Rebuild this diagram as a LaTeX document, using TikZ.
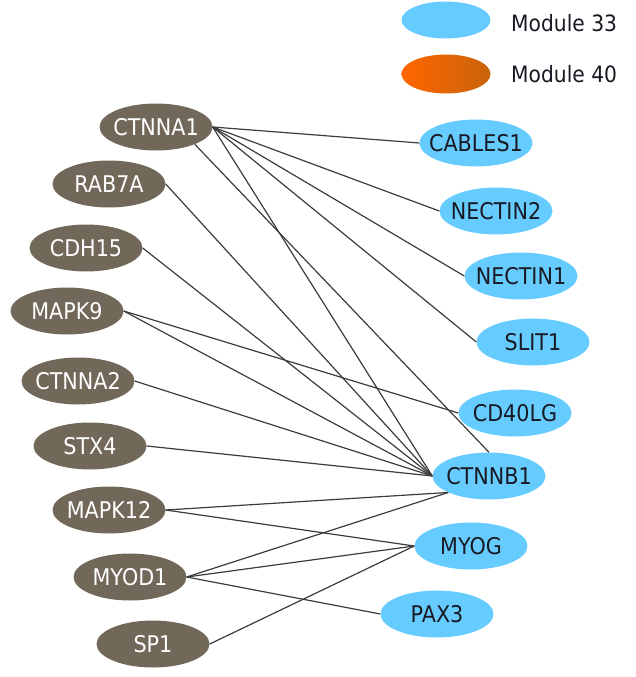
\documentclass[tikz,border=0pt]{standalone}
\usepackage{fontspec}
\setmainfont[FakeStretch=0.9]{DejaVu Sans}
\usetikzlibrary{shapes.geometric}
\definecolor{gbrown}{RGB}{114,104,90}
\definecolor{gblue}{RGB}{102,204,255}
\definecolor{orgL}{RGB}{255,102,0}
\definecolor{orgR}{RGB}{200,100,10}
\definecolor{edgec}{RGB}{60,60,60}
\definecolor{txtdark}{RGB}{25,25,35}
\newcommand{\lbl}[1]{\makebox[0pt]{#1}}
\begin{document}
\begin{tikzpicture}[x=1pt,y=-1pt,
  leftnode/.style={ellipse, fill=gbrown, text=white, minimum width=113pt, minimum height=47pt, inner sep=0pt, font=\fontsize{23}{26}\selectfont},
  rightnode/.style={ellipse, fill=gblue, text=txtdark, minimum width=113pt, minimum height=47pt, inner sep=0pt, font=\fontsize{23}{26}\selectfont},
  legtext/.style={anchor=base west, inner sep=0pt, text=txtdark, font=\fontsize{22.5}{25}\selectfont},
  edge/.style={draw=edgec, line width=1.2pt}]
\useasboundingbox (0,0) rectangle (636,677);
% legend
\node[ellipse, fill=gblue, minimum width=89pt, minimum height=37pt, inner sep=0pt] (leg33) at (446,20) {};
\node[ellipse, left color=orgL, right color=orgR, minimum width=89pt, minimum height=39pt, inner sep=0pt] (leg40) at (446,74) {};
\node[legtext] (leg33t) at (511,32) {Module 33};
\node[legtext] (leg40t) at (511,82) {Module 40};
% left nodes
\node[leftnode] (ctnna1) at (156,127) {\lbl{CTNNA1}};
\node[leftnode] (rab7a) at (109,184) {\lbl{RAB7A}};
\node[leftnode] (cdh15) at (86,248) {\lbl{CDH15}};
\node[leftnode] (mapk9) at (67,311) {\lbl{MAPK9}};
\node[leftnode] (ctnna2) at (78,381) {\lbl{CTNNA2}};
\node[leftnode] (stx4) at (90,446) {\lbl{STX4}};
\node[leftnode] (mapk12) at (109,510) {\lbl{MAPK12}};
\node[leftnode] (myod1) at (130,577) {\lbl{MYOD1}};
\node[leftnode] (sp1) at (153,644) {\lbl{SP1}};
% right nodes
\node[rightnode] (cables1) at (476,143) {\lbl{CABLES1}};
\node[rightnode] (nectin2) at (496,211) {\lbl{NECTIN2}};
\node[rightnode] (nectin1) at (521,276) {\lbl{NECTIN1}};
\node[rightnode] (slit1) at (533,342) {\lbl{SLIT1}};
\node[rightnode] (cd40lg) at (515,413) {\lbl{CD40LG}};
\node[rightnode] (ctnnb1) at (489,476) {\lbl{CTNNB1}};
\node[rightnode] (myog) at (471,546) {\lbl{MYOG}};
\node[rightnode] (pax3) at (437,614) {\lbl{PAX3}};
% edges
\draw[edge] (ctnna1.east) -- (cables1.west);
\draw[edge] (ctnna1.east) -- (nectin2.west);
\draw[edge] (ctnna1.east) -- (nectin1.west);
\draw[edge] (ctnna1.east) -- (slit1.west);
\draw[edge] (ctnna1.east) -- (ctnnb1.west);
\draw[edge] (ctnna1.-24) -- (ctnnb1.north);
\draw[edge] (rab7a.east) -- (ctnnb1.west);
\draw[edge] (cdh15.east) -- (ctnnb1.west);
\draw[edge] (mapk9.east) -- (cd40lg.west);
\draw[edge] (mapk9.east) -- (ctnnb1.west);
\draw[edge] (ctnna2.east) -- (ctnnb1.west);
\draw[edge] (stx4.east) -- (ctnnb1.west);
\draw[edge] (mapk12.east) -- (ctnnb1.202);
\draw[edge] (mapk12.east) -- (myog.west);
\draw[edge] (myod1.east) -- (ctnnb1.202);
\draw[edge] (myod1.east) -- (myog.west);
\draw[edge] (myod1.east) -- (pax3.west);
\draw[edge] (sp1.east) -- (myog.west);
\end{tikzpicture}
\end{document}
